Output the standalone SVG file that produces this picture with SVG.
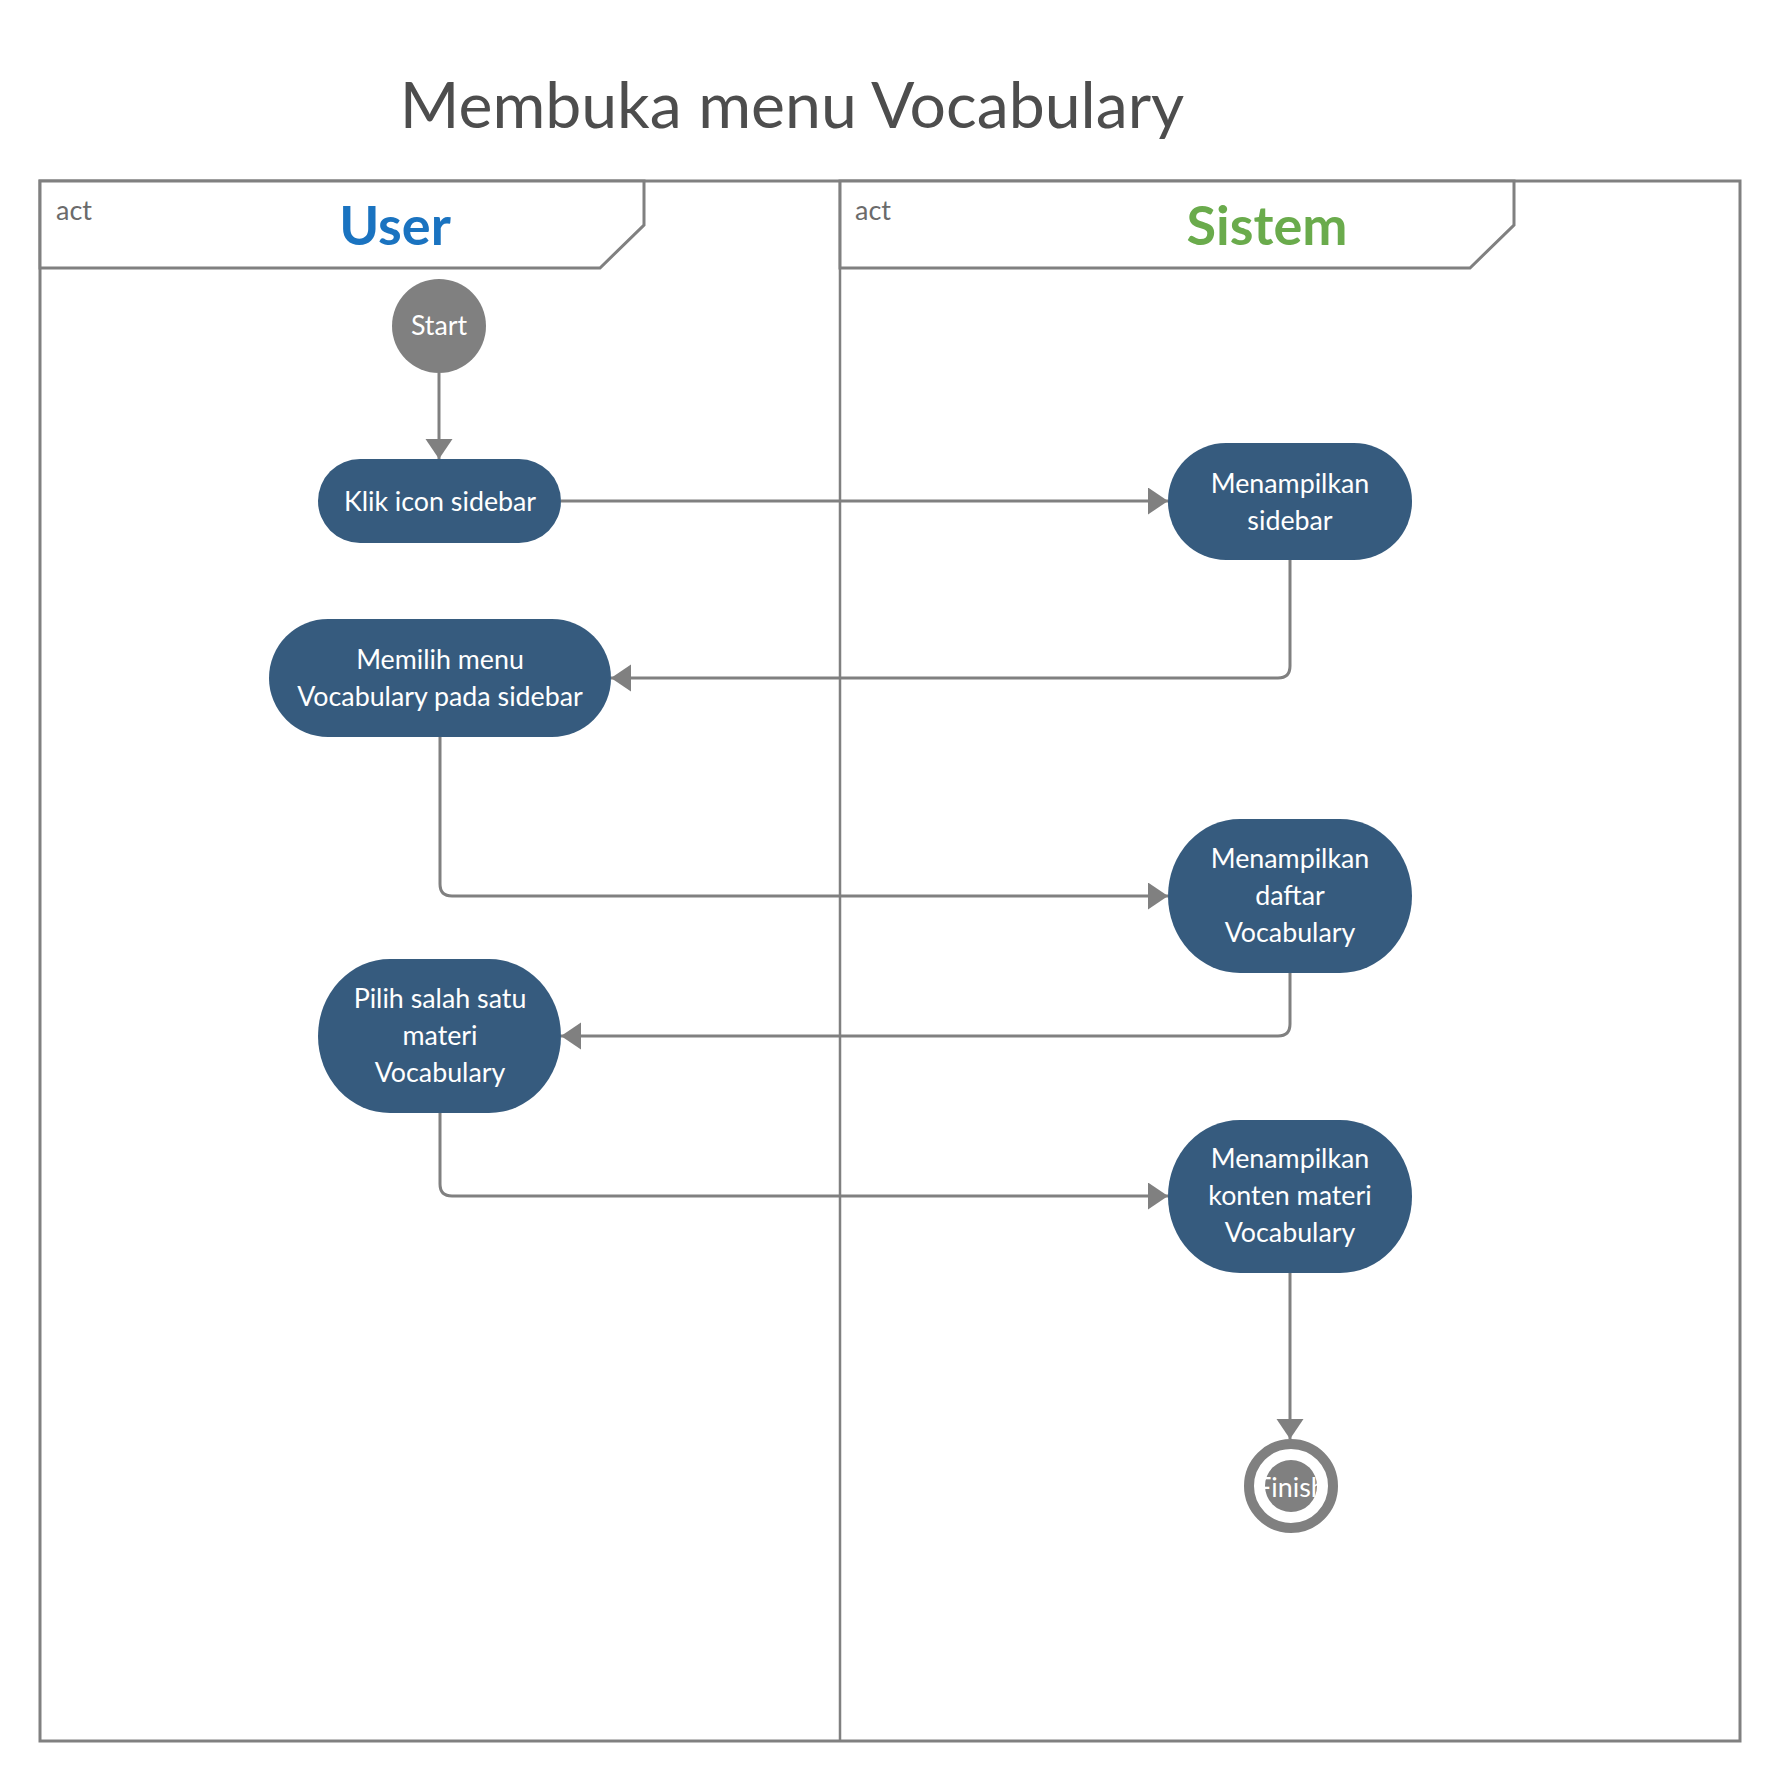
<svg xmlns="http://www.w3.org/2000/svg" width="1781" height="1782" viewBox="0 0 1781 1782">
<style>
.frame{fill:none;stroke:#808080;stroke-width:3}
.hdr{fill:#fff;stroke:#808080;stroke-width:3}
.act{font-family:Lato,"Liberation Sans",sans-serif;font-size:27px;fill:#6b6b6b}
.lane{font-family:Lato,"Liberation Sans",sans-serif;font-size:54px;font-weight:bold;text-anchor:middle}
.node{fill:#365b7e}
.nt{font-family:Lato,"Liberation Sans",sans-serif;font-size:26.8px;fill:#fff;text-anchor:middle}
.conn{fill:none;stroke:#808080;stroke-width:3}
</style>
<defs>
<marker id="arr" markerUnits="userSpaceOnUse" markerWidth="21" markerHeight="28" refX="20" refY="13.5" orient="auto">
<path d="M0,0 L20,13.5 L0,27 z" fill="#808080"/>
</marker>
</defs>
<rect width="1781" height="1782" fill="#fff"/>
<text x="792" y="128" font-family="Lato, 'Liberation Sans', sans-serif" font-size="64.3" fill="#4d4d4d" text-anchor="middle">Membuka menu Vocabulary</text>
<g id="frame">
<rect class="frame" x="40" y="181" width="1700" height="1560"/>
<line x1="840" y1="181" x2="840" y2="1741" stroke="#808080" stroke-width="2.5"/>
</g>
<g id="lane-user">
<polygon class="hdr" points="40,181 644,181 644,225 600,268 40,268"/>
<text class="act" x="56" y="220">act</text>
<text class="lane" x="395" y="245" fill="#1a73c0">User</text>
</g>
<g id="lane-sistem">
<polygon class="hdr" points="840,181 1514,181 1514,225 1470,268 840,268"/>
<text class="act" x="855" y="220">act</text>
<text class="lane" x="1267" y="245" font-size="53" fill="#6aab4c">Sistem</text>
</g>
<g id="connectors">
<path class="conn" d="M439,373 V459" marker-end="url(#arr)"/>
<path class="conn" d="M561,501 H1168" marker-end="url(#arr)"/>
<path class="conn" d="M1290,560 V666 Q1290,678 1278,678 H611" marker-end="url(#arr)"/>
<path class="conn" d="M440,737 V884 Q440,896 452,896 H1168" marker-end="url(#arr)"/>
<path class="conn" d="M1290,973 V1024 Q1290,1036 1278,1036 H561" marker-end="url(#arr)"/>
<path class="conn" d="M440,1113 V1184 Q440,1196 452,1196 H1168" marker-end="url(#arr)"/>
<path class="conn" d="M1290,1273 V1439" marker-end="url(#arr)"/>
</g>
<g id="start">
<circle cx="439" cy="326" r="47" fill="#808080"/>
<text class="nt" x="439" y="335">Start</text>
</g>
<g id="klik">
<rect class="node" x="318" y="459" width="243" height="84" rx="42" ry="42"/>
<text class="nt" x="440" y="511">Klik icon sidebar</text>
</g>
<g id="tampil-sidebar">
<rect class="node" x="1168" y="443" width="244" height="117" rx="58" ry="58"/>
<text class="nt" x="1290" y="493">Menampilkan</text>
<text class="nt" x="1290" y="530">sidebar</text>
</g>
<g id="memilih">
<rect class="node" x="269" y="619" width="342" height="118" rx="59" ry="59"/>
<text class="nt" x="440" y="669">Memilih menu</text>
<text class="nt" x="440" y="706">Vocabulary pada sidebar</text>
</g>
<g id="tampil-daftar">
<rect class="node" x="1168" y="819" width="244" height="154" rx="72" ry="77"/>
<text class="nt" x="1290" y="868">Menampilkan</text>
<text class="nt" x="1290" y="905">daftar</text>
<text class="nt" x="1290" y="942">Vocabulary</text>
</g>
<g id="pilih">
<rect class="node" x="318" y="959" width="243" height="154" rx="72" ry="77"/>
<text class="nt" x="440" y="1008">Pilih salah satu</text>
<text class="nt" x="440" y="1045">materi</text>
<text class="nt" x="440" y="1082">Vocabulary</text>
</g>
<g id="tampil-konten">
<rect class="node" x="1168" y="1120" width="244" height="153" rx="72" ry="76"/>
<text class="nt" x="1290" y="1168">Menampilkan</text>
<text class="nt" x="1290" y="1205">konten materi</text>
<text class="nt" x="1290" y="1242">Vocabulary</text>
</g>
<g id="finish">
<circle cx="1291" cy="1486" r="42" fill="#fff" stroke="#808080" stroke-width="10"/>
<circle cx="1291" cy="1486" r="26" fill="#808080"/>
<text class="nt" x="1291" y="1497">Finish</text>
</g>
</svg>
